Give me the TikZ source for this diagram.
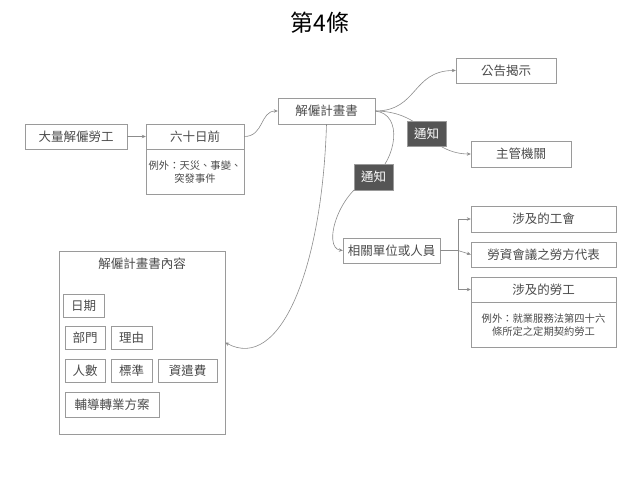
\documentclass[tikz,border=0pt]{standalone}
\usepackage{fontspec}
\setmainfont{Noto Sans CJK TC}
\usetikzlibrary{arrows.meta}

\definecolor{edgegray}{HTML}{9A9A9A}
\definecolor{linegray}{HTML}{8C8C8C}
\definecolor{inkgray}{HTML}{4A4A4A}
\definecolor{taggray}{HTML}{555555}

\begin{document}
\begin{tikzpicture}[x=1pt, y=-1pt,
	box/.style={draw=edgegray, text=inkgray, inner sep=0pt, minimum height=25,
		font=\fontsize{12.5}{14}\selectfont},
	note/.style={box, minimum height=45, align=center, font=\fontsize{10.3}{13}\selectfont},
	chip/.style={box, minimum height=23},
	tag/.style={fill=taggray, draw=edgegray, text=white, inner sep=0pt,
		minimum width=39, minimum height=25, font=\fontsize{12.5}{14}\selectfont},
	link/.style={draw=linegray, line width=0.6pt},
	arr/.style={link, -{Stealth[length=4pt, width=3.5pt]}},
]

% frame %{{{2

	\useasboundingbox (0,0) rectangle (640,480);

% title %{{{2

	\node[text=black, font=\fontsize{23}{25}\selectfont] (title) at (320,23) {第4條};

% main chain %{{{2

	\node[box, minimum width=102] (mass) at (76,136.5) {大量解僱勞工};
	\node[box, minimum width=98] (sixty) at (195,136.5) {六十日前};
	\node[note, minimum width=98, anchor=north] (sixtyx) at (sixty.south)
		{例外：天災、事變、\\突發事件};
	\node[box, minimum width=97, minimum height=26] (plan) at (326.5,111) {解僱計畫書};

% receivers %{{{2

	\node[box, minimum width=100] (post) at (506,70.5) {公告揭示};
	\node[box, minimum width=100, minimum height=26] (auth) at (521,154) {主管機關};
	\node[box, minimum width=97] (rel) at (391.5,250.5) {相關單位或人員};

	\node[box, minimum width=145, minimum height=26] (union) at (543.5,219) {涉及的工會};
	\node[box, minimum width=145] (rep) at (543.5,254.5) {勞資會議之勞方代表};
	\node[box, minimum width=145] (worker) at (543.5,289.5) {涉及的勞工};
	\node[note, minimum width=145, anchor=north] (workerx) at (worker.south)
		{例外：就業服務法第四十六\\條所定之定期契約勞工};

% plan contents %{{{2

	\node[box, minimum width=166, minimum height=183] (content) at (142,342.5) {};
	\node[text=inkgray, font=\fontsize{12.5}{14}\selectfont, anchor=north] (contenttitle)
		at ([yshift=-4pt]content.north) {解僱計畫書內容};

	\node[chip, minimum width=41] (date) at (83.5,305.5) {日期};
	\node[chip, minimum width=40] (dept) at (85,337.5) {部門};
	\node[chip, minimum width=41] (reason) at (131.5,337.5) {理由};
	\node[chip, minimum width=40] (count) at (85,370.5) {人數};
	\node[chip, minimum width=41] (rule) at (131.5,370.5) {標準};
	\node[chip, minimum width=59] (pay) at (187.5,370.5) {資遣費};
	\node[box, minimum width=94] (guide) at (112,404.5) {輔導轉業方案};

% connectors %{{{2

	\coordinate (tagA) at (426.5,133.5);
	\coordinate (tagB) at (373.5,177);
	\coordinate (fork) at (458,250.5);

	\draw[arr] (mass) -- (sixty);
	\draw[arr] (sixty.east) .. controls (264,136.5) and (260,111) .. (plan.west);
	\draw[arr] (plan.east) .. controls (418,111) and (412,70.5) .. (post.west);
	\draw[arr] (plan.east) .. controls (400,111) and (418,122) .. (tagA)
		.. controls (436,146) and (452,154) .. (auth.west);
	\draw[arr] (plan.east) .. controls (404,114) and (396,160) .. (tagB)
		.. controls (338,190) and (322,248) .. (rel.west);
	\draw[arr] (plan.south) .. controls (322,270) and (280,372) .. (content.east);

	\draw[link] (rel.east) -- (fork);
	\draw[arr] (fork) |- (union.west);
	\draw[arr] (fork) -- (rep.west);
	\draw[arr] (fork) |- (worker.west);

% tags %{{{2

	\node[tag] (notifyA) at (tagA) {通知};
	\node[tag, minimum height=26] (notifyB) at (tagB) {通知};

\end{tikzpicture}
\end{document}
